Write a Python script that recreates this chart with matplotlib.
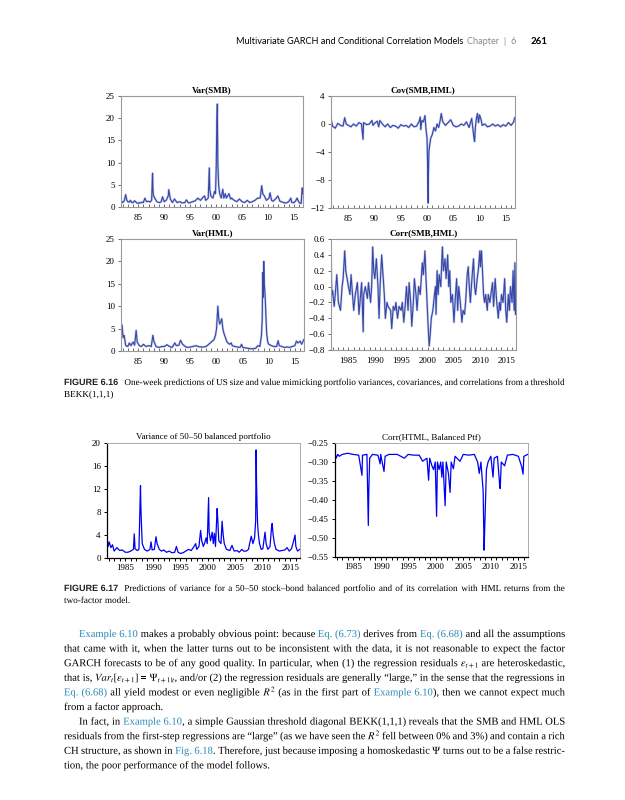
import matplotlib
matplotlib.use("Agg")
import matplotlib.pyplot as plt
from matplotlib.ticker import FixedLocator, FixedFormatter, MultipleLocator
from matplotlib.textpath import TextPath
from matplotlib.patches import PathPatch
from matplotlib.font_manager import FontProperties
from matplotlib.transforms import Affine2D

plt.rcParams['font.family'] = ['Liberation Serif', 'DejaVu Serif']
plt.rcParams['mathtext.fontset'] = 'stix'

W, H = 625, 800

# ---------------- data ----------------
var_smb_t = [1981.7, 1982.0, 1982.3, 1982.6, 1982.8, 1983.0, 1983.3, 1983.5, 1983.8, 1984.0, 1984.3,
             1984.5, 1984.8, 1985.0, 1985.3, 1985.5, 1985.8, 1986.0, 1986.3, 1986.6, 1987.0, 1987.3,
             1987.6, 1987.78, 1987.85, 1987.95, 1988.2, 1988.6, 1989.0, 1989.4, 1989.7, 1990.0, 1990.4,
             1990.8, 1990.9, 1991.2, 1991.6, 1992.0, 1992.5, 1993.0, 1993.5, 1994.0, 1994.3, 1994.7,
             1995.0, 1995.5, 1996.0, 1996.5, 1997.0, 1997.5, 1997.8, 1998.0, 1998.5, 1998.7, 1998.8,
             1999.0, 1999.4, 1999.7, 1999.9, 2000.05, 2000.15, 2000.25, 2000.35, 2000.5, 2000.7,
             2001.0, 2001.3, 2001.5, 2001.8, 2002.0, 2002.5, 2002.8, 2003.0, 2003.5, 2004.0, 2004.5,
             2005.0, 2005.5, 2006.0, 2006.5, 2007.0, 2007.5, 2008.0, 2008.5, 2008.8, 2009.0, 2009.3,
             2009.7, 2010.2, 2010.4, 2010.7, 2011.0, 2011.6, 2011.9, 2012.3, 2012.8, 2013.0, 2013.5,
             2014.0, 2014.4, 2014.6, 2015.0, 2015.3, 2015.6, 2016.0, 2016.4, 2016.6, 2016.7]
var_smb_v = [1.5, 1.0, 1.3, 2.8, 1.6, 1.2, 1.1, 1.5, 1.0, 1.0, 1.4, 1.2, 0.9, 0.8, 1.0, 0.9, 1.1, 1.0,
             2.0, 1.2, 1.3, 1.1, 1.5, 7.6, 4.0, 2.6, 2.0, 1.2, 1.0, 1.1, 2.3, 1.2, 1.5, 2.5, 3.9, 1.8,
             1.0, 1.8, 1.0, 1.2, 0.9, 1.0, 1.6, 0.9, 1.0, 1.2, 1.4, 2.0, 1.5, 2.2, 2.5, 1.5, 2.0, 8.8,
             4.0, 2.5, 2.0, 3.5, 3.0, 9.4, 19.0, 23.2, 10.0, 5.0, 3.0, 2.0, 4.0, 2.0, 3.0, 2.0, 3.0,
             1.8, 2.0, 1.5, 1.2, 1.8, 1.2, 1.0, 1.5, 1.0, 1.2, 1.5, 2.0, 2.0, 4.8, 3.0, 2.5, 1.5, 2.0,
             3.2, 1.5, 1.3, 2.0, 2.5, 1.3, 1.1, 1.0, 0.9, 1.2, 2.0, 1.0, 1.0, 1.3, 2.0, 1.0, 0.8, 4.3,
             3.0]

cov_t = [1981.7, 1982.0, 1982.5, 1983.0, 1983.5, 1984.0, 1984.3, 1984.6, 1985.0, 1985.5, 1986.0,
         1986.5, 1987.0, 1987.5, 1987.8, 1987.9, 1988.5, 1989.0, 1989.5, 1989.7, 1990.0, 1990.5,
         1990.8, 1991.0, 1991.5, 1992.0, 1992.5, 1993.0, 1993.5, 1994.0, 1994.5, 1995.0, 1995.5,
         1996.0, 1996.5, 1997.0, 1997.5, 1998.0, 1998.5, 1998.7, 1998.8, 1999.0, 1999.3, 1999.6,
         1999.8, 2000.0, 2000.1, 2000.2, 2000.25, 2000.35, 2000.5, 2000.7, 2001.0, 2001.3, 2001.6,
         2001.9, 2002.2, 2002.5, 2002.7, 2003.0, 2003.5, 2004.0, 2004.5, 2005.0, 2005.5, 2006.0,
         2006.5, 2007.0, 2007.5, 2008.0, 2008.5, 2008.7, 2008.9, 2009.05, 2009.2, 2009.4, 2009.6,
         2009.8, 2010.0, 2010.3, 2010.5, 2011.0, 2011.5, 2012.0, 2012.5, 2013.0, 2013.5, 2014.0,
         2014.5, 2015.0, 2015.5, 2016.0, 2016.5, 2016.7]
cov_v = [0.8, -0.3, -0.6, 0.1, -0.2, -0.3, 0.9, 0.0, -0.2, -0.4, 0.0, -0.3, 0.2, 0.0, -2.2, 0.2,
         -0.1, 0.0, 0.5, -0.2, 0.1, 0.4, -0.4, 0.5, 0.0, -0.4, 0.0, -0.5, -0.2, -0.3, -0.6, -0.1,
         -0.3, -0.2, -0.5, 0.0, -0.4, -0.3, 0.4, 1.0, -0.8, 0.5, 0.3, 1.2, -0.8, -2.0, -6.0, -11.3,
         -7.5, -4.0, -3.0, -2.0, -1.5, -0.5, -1.0, 0.0, -0.5, 0.5, 1.5, 0.3, -0.2, 0.2, 0.6, -0.2,
         -0.4, -0.3, 0.0, -0.2, 0.3, -0.5, 0.8, -0.5, -1.8, -2.5, -0.5, 0.8, 1.5, 0.2, 1.3, 0.6,
         -0.2, 0.0, -0.4, -0.3, 0.0, -0.3, -0.1, -0.4, -0.1, -0.3, 0.2, -0.2, 0.3, 0.9]

var_hml_t = [1981.7, 1981.9, 1982.1, 1982.3, 1982.6, 1983.0, 1983.3, 1983.6, 1984.0, 1984.3, 1984.6,
             1984.8, 1985.2, 1985.6, 1986.0, 1986.5, 1987.0, 1987.5, 1987.8, 1988.0, 1988.4, 1989.0,
             1989.5, 1990.0, 1990.5, 1991.0, 1991.5, 1992.0, 1992.3, 1992.8, 1993.1, 1993.5, 1994.0,
             1994.5, 1995.0, 1995.5, 1996.0, 1996.5, 1997.0, 1997.5, 1998.0, 1998.5, 1999.0, 1999.5,
             1999.8, 2000.0, 2000.15, 2000.25, 2000.4, 2000.6, 2000.8, 2001.0, 2001.2, 2001.4, 2001.7,
             2002.0, 2002.5, 2002.8, 2003.0, 2003.5, 2004.0, 2004.5, 2004.8, 2005.0, 2005.5, 2006.0,
             2006.5, 2007.0, 2007.5, 2007.9, 2008.3, 2008.6, 2008.75, 2008.85, 2008.95, 2009.05,
             2009.15, 2009.3, 2009.45, 2009.6, 2009.8, 2010.0, 2010.5, 2011.0, 2011.5, 2011.8, 2012.0,
             2012.5, 2013.0, 2013.5, 2014.0, 2014.5, 2015.0, 2015.3, 2015.6, 2016.0, 2016.3, 2016.7]
var_hml_v = [3.5, 5.8, 3.0, 3.5, 1.2, 1.0, 1.8, 1.2, 2.0, 1.3, 4.6, 2.0, 1.2, 1.0, 1.5, 1.0, 1.2, 1.0,
             3.5, 2.2, 1.0, 0.8, 1.0, 1.0, 1.4, 1.0, 0.8, 1.8, 1.2, 1.3, 2.4, 1.5, 1.0, 0.8, 0.9, 1.0,
             1.2, 1.0, 0.9, 0.9, 1.0, 1.5, 2.0, 2.5, 3.5, 5.0, 8.0, 10.0, 7.5, 6.0, 6.5, 7.2, 5.0, 4.0,
             3.0, 2.0, 1.5, 1.8, 1.2, 1.0, 0.9, 0.8, 1.5, 0.8, 0.7, 0.6, 0.5, 0.5, 0.6, 1.2, 1.0, 3.5,
             7.0, 17.5, 12.0, 20.0, 15.0, 12.5, 8.0, 4.0, 2.0, 1.5, 1.2, 1.0, 1.0, 2.3, 1.2, 1.0, 0.8,
             0.9, 0.8, 1.0, 1.2, 2.2, 1.8, 2.2, 1.5, 2.5]

corr_t = [1981.7, 1981.85, 1982.0, 1982.3, 1982.5, 1982.8, 1983.1, 1983.5, 1983.8, 1984.0, 1984.3,
          1984.5, 1985.0, 1985.3, 1985.5, 1986.0, 1986.3, 1986.7, 1987.0, 1987.3, 1987.5, 1987.8,
          1987.9, 1988.2, 1988.6, 1988.8, 1989.2, 1989.4, 1989.6, 1989.8, 1990.0, 1990.3, 1990.6,
          1990.8, 1991.0, 1991.3, 1991.6, 1991.8, 1992.0, 1992.3, 1992.5, 1993.0, 1993.2, 1993.5,
          1993.8, 1994.0, 1994.3, 1994.6, 1995.0, 1995.2, 1995.5, 1995.8, 1996.0, 1996.3, 1996.5,
          1996.8, 1997.0, 1997.3, 1997.5, 1997.8, 1998.0, 1998.3, 1998.6, 1999.0, 1999.2, 1999.5,
          1999.7, 1999.9, 2000.1, 2000.3, 2000.5, 2000.7, 2001.0, 2001.3, 2001.5, 2001.6, 2001.8,
          2002.0, 2002.2, 2002.5, 2002.8, 2003.0, 2003.3, 2003.5, 2003.8, 2004.0, 2004.2, 2004.4,
          2004.7, 2005.0, 2005.2, 2005.5, 2005.7, 2005.9, 2006.2, 2006.5, 2006.7, 2007.0, 2007.2,
          2007.5, 2007.7, 2007.9, 2008.1, 2008.4, 2008.7, 2008.9, 2009.1, 2009.4, 2009.6, 2009.9,
          2010.0, 2010.2, 2010.4, 2010.6, 2010.8, 2011.0, 2011.3, 2011.5, 2011.8, 2012.0, 2012.3,
          2012.5, 2012.8, 2013.1, 2013.4, 2013.6, 2013.8, 2014.0, 2014.3, 2014.6, 2014.8, 2015.0,
          2015.3, 2015.5, 2015.7, 2016.0, 2016.2, 2016.4, 2016.55, 2016.65]
corr_v = [0.35, -0.1, -0.05, -0.25, -0.1, 0.15, -0.2, -0.3, 0.0, 0.1, 0.45, 0.2, 0.0, -0.1, 0.15,
          -0.3, -0.1, 0.05, -0.35, -0.1, 0.05, -0.57, -0.1, 0.0, -0.15, 0.05, -0.2, 0.0, 0.5, 0.2,
          0.1, 0.35, 0.0, -0.4, 0.0, 0.4, 0.1, -0.1, -0.4, -0.2, -0.25, -0.3, -0.53, -0.25, -0.3,
          -0.2, -0.4, -0.25, -0.3, -0.2, -0.45, -0.2, 0.0, -0.3, 0.05, -0.2, -0.5, -0.2, 0.1, -0.1,
          -0.3, 0.0, -0.1, 0.3, 0.15, 0.45, 0.1, -0.2, -0.5, -0.75, -0.6, -0.4, -0.3, -0.1, 0.0,
          -0.35, 0.2, -0.1, 0.15, 0.0, 0.5, 0.2, 0.35, 0.1, 0.4, 0.0, 0.2, -0.2, -0.1, -0.45, -0.2,
          0.1, -0.3, 0.0, -0.2, -0.45, -0.3, -0.35, -0.2, 0.15, 0.25, 0.0, -0.2, 0.1, 0.35, 0.0,
          -0.1, 0.1, 0.2, 0.45, 0.25, 0.45, 0.2, -0.1, -0.2, -0.1, -0.3, -0.1, -0.2, -0.1, 0.05,
          -0.25, 0.1, -0.2, -0.4, -0.2, -0.3, -0.1, -0.2, 0.1, -0.3, -0.45, -0.1, -0.3, 0.0, -0.2,
          0.2, -0.3, 0.3, -0.35]

bal_var_t = [1981.7, 1981.9, 1982.1, 1982.4, 1982.7, 1983.0, 1983.5, 1984.0, 1984.5, 1985.0, 1985.5,
             1986.0, 1986.5, 1986.65, 1986.8, 1987.2, 1987.5, 1987.78, 1987.85, 1987.95, 1988.1,
             1988.5, 1989.0, 1989.5, 1989.7, 1989.9, 1990.3, 1990.6, 1990.8, 1991.2, 1991.6, 1992.0,
             1992.5, 1993.0, 1993.5, 1994.0, 1994.3, 1994.6, 1995.0, 1995.5, 1996.0, 1996.5, 1997.0,
             1997.5, 1997.8, 1998.0, 1998.4, 1998.7, 1998.9, 1999.2, 1999.5, 1999.7, 1999.9, 2000.15,
             2000.25, 2000.5, 2000.8, 2001.0, 2001.2, 2001.4, 2001.7, 2001.8, 2002.0, 2002.4, 2002.6,
             2002.8, 2003.0, 2003.4, 2004.0, 2004.4, 2004.8, 2005.3, 2005.7, 2006.2, 2006.5, 2007.0,
             2007.4, 2007.6, 2007.9, 2008.2, 2008.5, 2008.7, 2008.78, 2008.85, 2008.95, 2009.05,
             2009.2, 2009.4, 2009.7, 2010.0, 2010.4, 2010.6, 2010.9, 2011.3, 2011.6, 2011.7, 2011.85,
             2012.1, 2012.4, 2013.0, 2013.5, 2014.0, 2014.4, 2014.8, 2015.2, 2015.6, 2015.85, 2016.0,
             2016.3, 2016.7]
bal_var_v = [3.7, 2.0, 2.8, 1.8, 2.3, 1.2, 1.8, 1.3, 1.4, 1.0, 1.0, 1.2, 1.5, 4.2, 1.6, 1.3, 1.5,
             12.6, 9.0, 6.0, 2.5, 1.5, 1.2, 1.5, 2.8, 1.4, 1.5, 3.7, 2.5, 1.5, 1.2, 1.4, 1.0, 1.2,
             0.9, 1.0, 2.0, 1.0, 0.8, 0.9, 1.2, 1.5, 1.3, 2.0, 2.5, 1.5, 2.0, 4.8, 3.0, 2.0, 2.8,
             3.5, 2.5, 10.5, 4.5, 3.0, 4.5, 2.5, 4.3, 2.0, 8.6, 7.0, 3.0, 2.5, 6.4, 4.0, 2.5, 1.5,
             1.3, 2.2, 1.2, 1.3, 1.0, 1.5, 1.2, 1.2, 1.5, 2.5, 3.8, 2.5, 3.5, 6.5, 18.8, 13.5, 9.0,
             6.0, 4.0, 2.5, 1.5, 1.6, 4.5, 2.5, 1.5, 2.0, 5.5, 6.0, 4.2, 2.5, 1.5, 1.2, 1.3, 1.4,
             1.8, 1.2, 1.6, 3.0, 4.0, 2.0, 1.2, 1.5]

bal_corr_t = [1981.7, 1981.9, 1982.2, 1982.5, 1983.0, 1984.0, 1985.0, 1986.0, 1986.6, 1986.7,
              1987.5, 1987.75, 1987.85, 1988.0, 1988.5, 1989.5, 1989.9, 1990.0, 1990.6, 1990.8,
              1991.5, 1993.0, 1994.3, 1995.0, 1996.0, 1997.0, 1997.6, 1998.4, 1998.7, 1998.9,
              1999.3, 1999.6, 1999.9, 2000.15, 2000.3, 2000.6, 2000.9, 2001.1, 2001.3, 2001.7,
              2001.9, 2002.3, 2002.6, 2002.8, 2003.2, 2003.5, 2004.4, 2005.0, 2006.0, 2007.0,
              2007.6, 2007.9, 2008.2, 2008.6, 2008.78, 2008.9, 2009.0, 2009.2, 2009.5, 2010.0,
              2010.4, 2010.6, 2011.2, 2011.6, 2011.7, 2011.9, 2012.5, 2013.0, 2014.0, 2015.0,
              2015.6, 2015.85, 2016.0, 2016.7]
bal_corr_v = [-0.275, -0.29, -0.28, -0.285, -0.28, -0.277, -0.28, -0.282, -0.335, -0.282, -0.28,
              -0.467, -0.37, -0.29, -0.28, -0.282, -0.305, -0.28, -0.325, -0.285, -0.28, -0.28,
              -0.29, -0.28, -0.282, -0.282, -0.298, -0.29, -0.348, -0.29, -0.31, -0.32, -0.3,
              -0.443, -0.3, -0.32, -0.3, -0.34, -0.3, -0.415, -0.3, -0.33, -0.38, -0.3, -0.318,
              -0.285, -0.298, -0.28, -0.282, -0.28, -0.3, -0.33, -0.3, -0.375, -0.532, -0.47, -0.42,
              -0.32, -0.3, -0.285, -0.34, -0.29, -0.285, -0.36, -0.37, -0.3, -0.31, -0.282, -0.28,
              -0.285, -0.312, -0.332, -0.285, -0.28]

short_years = [1985, 1990, 1995, 2000, 2005, 2010, 2015]
short_labels = ['85', '90', '95', '00', '05', '10', '15']
long_labels = ['1985', '1990', '1995', '2000', '2005', '2010', '2015']
corr_ticks = [-0.55, -0.50, -0.45, -0.40, -0.35, -0.30, -0.25]
corr_labels = ['\u22120.55', '\u22120.50', '\u22120.45', '\u22120.40', '\u22120.35', '\u22120.30', '\u22120.25']

header_main = "Multivariate GARCH and Conditional Correlation Models"
header_chap = "Chapter  |  6"
page_no = "261"

cap16_lines = ["One-week predictions of US size and value mimicking portfolio variances, covariances, and correlations from a threshold",
               "BEKK(1,1,1)"]
cap17_lines = ["Predictions of variance for a 50\u201350 stock\u2013bond balanced portfolio and of its correlation with HML returns from the",
               "two-factor model."]

# <...> marks cross-reference (link) text
body_lines = [
    "<Example 6.10> makes a probably obvious point: because <Eq. (6.73)> derives from <Eq. (6.68)> and all the assumptions",
    "that came with it, when the latter turns out to be inconsistent with the data, it is not reasonable to expect the factor",
    "GARCH forecasts to be of any good quality. In particular, when (1) the regression residuals $\\varepsilon_{t+1}$ are heteroskedastic,",
    "that is, $Var_t[\\varepsilon_{t+1}]$ = $\\Psi_{t+1|t}$, and/or (2) the regression residuals are generally \u201clarge,\u201d in the sense that the regressions in",
    "<Eq. (6.68)> all yield modest or even negligible $R^2$ (as in the first part of <Example 6.10>), then we cannot expect much",
    "from a factor approach.",
    "In fact, in <Example 6.10>, a simple Gaussian threshold diagonal BEKK(1,1,1) reveals that the SMB and HML OLS",
    "residuals from the first-step regressions are \u201clarge\u201d (as we have seen the $R^2$ fell between 0% and 3%) and contain a rich",
    "CH structure, as shown in <Fig. 6.18>. Therefore, just because imposing a homoskedastic $\\Psi$ turns out to be a false restric-",
    "tion, the poor performance of the model follows.",
]
body_indent = [True, False, False, False, False, False, True, False, False, False]
body_last = [False, False, False, False, False, True, False, False, False, True]

LINK = '#2b88b8'
TOP_BLUE = '#3646a6'
TOP_HALO = '#c3c9ea'
BOT_BLUE = '#0000f0'

fig = plt.figure(figsize=(W / 100, H / 100), dpi=100)
renderer = fig.canvas.get_renderer()
SERIF = FontProperties(family=['Liberation Serif', 'DejaVu Serif'])


def fx(x):
    return x / W


def fy(y):
    return 1 - y / H


def box(l, r, t, b):
    return [fx(l), fy(b), (r - l) / W, (b - t) / H]


def parse(line):
    words, cur, buf, color = [], [], '', 'black'
    for ch in line:
        if ch in '<>' or ch == ' ':
            if buf:
                cur.append((buf, color))
                buf = ''
            if ch == '<':
                color = LINK
            elif ch == '>':
                color = 'black'
            elif cur:
                words.append(cur)
                cur = []
        else:
            buf += ch
    if buf:
        cur.append((buf, color))
    if cur:
        words.append(cur)
    return words


def text_width(txt, size, fp=None):
    if '$' in txt:
        # mathtext boxes come out too wide, use the ink extent instead
        tp = TextPath((0, 0), txt, size=size * 100 / 72, prop=fp or SERIF)
        return tp.get_extents().x1 + 0.6
    a = fig.text(0, 0, txt, fontsize=size, fontproperties=fp)
    wd = a.get_window_extent(renderer).width
    a.remove()
    return wd


def path_text(x, y, txt, size, color, fp=None):
    # glyphs as filled paths, placed in pixel coordinates (no baseline snapping)
    tp = TextPath((0, 0), txt, size=size * 100 / 72, prop=fp or SERIF)
    tr = Affine2D().translate(x, H - y)
    fig.patches.append(PathPatch(tp, transform=tr, facecolor=color, edgecolor='none', lw=0, figure=fig))


def put_line(line, x0, x1, y, size, justify=True):
    words = parse(line)
    widths = []
    for w in words:
        widths.append([text_width(txt, size) for txt, col in w])
    totals = [sum(ws) for ws in widths]
    space = 0.25 * size * 100 / 72
    if justify and len(words) > 1:
        space = (x1 - x0 - sum(totals)) / (len(words) - 1)
    x = x0
    for w, ws, tot in zip(words, widths, totals):
        xx = x
        for (txt, col), wd in zip(w, ws):
            path_text(xx, y, txt, size, col)
            xx += wd
        x += tot + space


def draw_top(ax, t, v):
    ax.plot(t, v, color=TOP_HALO, lw=1.6)
    ax.plot(t, v, color=TOP_BLUE, lw=0.8)


def style_top(ax, ylo, yhi, yticks, long_x=False):
    ax.set_xlim(1981.7, 2016.75)
    ax.set_ylim(ylo, yhi)
    ax.xaxis.set_major_locator(FixedLocator(short_years))
    ax.xaxis.set_major_formatter(FixedFormatter(long_labels if long_x else short_labels))
    ax.xaxis.set_minor_locator(MultipleLocator(1))
    ax.yaxis.set_major_locator(FixedLocator(yticks))
    ax.tick_params(axis='x', which='both', direction='in', length=2, width=0.6, colors='#555555',
                   labelcolor='black', labelsize=6.5, pad=5)
    ax.tick_params(axis='y', direction='out', length=2.5, width=0.6, colors='#555555',
                   labelcolor='black', labelsize=6.5, pad=2)
    for s in ax.spines.values():
        s.set_color('#9a9a9a')
        s.set_linewidth(0.8)


# Figure 6.16 panels
ax1 = fig.add_axes(box(121, 303, 96, 207))
draw_top(ax1, var_smb_t, var_smb_v)
style_top(ax1, 0, 25, [0, 5, 10, 15, 20, 25])
ax1.set_title("Var(SMB)", fontsize=6.5, fontweight='bold', pad=3)

ax2 = fig.add_axes(box(331, 515, 96, 208))
draw_top(ax2, cov_t, cov_v)
style_top(ax2, -12, 4, [-12, -8, -4, 0, 4])
ax2.set_title("Cov(SMB,HML)", fontsize=6.5, fontweight='bold', pad=3)

ax3 = fig.add_axes(box(121, 304, 239, 351))
draw_top(ax3, var_hml_t, var_hml_v)
style_top(ax3, 0, 25, [0, 5, 10, 15, 20, 25])
ax3.set_title("Var(HML)", fontsize=6.5, fontweight='bold', pad=3)

ax4 = fig.add_axes(box(331, 516, 239, 350))
draw_top(ax4, corr_t, corr_v)
style_top(ax4, -0.8, 0.6, [-0.8, -0.6, -0.4, -0.2, 0.0, 0.2, 0.4, 0.6], long_x=True)
ax4.set_title("Corr(SMB,HML)", fontsize=6.5, fontweight='bold', pad=3)


# Figure 6.17 panels
def style_bottom(ax, ylo, yhi, yticks):
    ax.set_xlim(1981.7, 2016.75)
    ax.set_ylim(ylo, yhi)
    ax.xaxis.set_major_locator(FixedLocator(short_years))
    ax.xaxis.set_major_formatter(FixedFormatter(long_labels))
    ax.xaxis.set_minor_locator(MultipleLocator(1))
    ax.yaxis.set_major_locator(FixedLocator(yticks))
    ax.tick_params(axis='both', which='both', direction='out', length=2.5, width=0.7, labelsize=6.5, pad=2)
    ax.tick_params(axis='x', which='minor', length=2)
    for s in ['top', 'right']:
        ax.spines[s].set_color('#aaaaaa')
        ax.spines[s].set_linewidth(0.7)
    for s in ['left', 'bottom']:
        ax.spines[s].set_linewidth(0.9)


ax5 = fig.add_axes(box(107, 300, 443, 558))
ax5.plot(bal_var_t, bal_var_v, color=BOT_BLUE, lw=0.9)
style_bottom(ax5, 0, 20, [0, 4, 8, 12, 16, 20])
ax5.set_title("Variance of 50\u201350 balanced portfolio", fontsize=6.5, pad=3)

ax6 = fig.add_axes(box(335, 528, 443, 557))
ax6.plot(bal_corr_t, bal_corr_v, color=BOT_BLUE, lw=0.9)
style_bottom(ax6, -0.55, -0.25, corr_ticks)
ax6.yaxis.set_major_formatter(FixedFormatter(corr_labels))
ax6.set_title("Corr(HTML, Balanced Ptf)", fontsize=6.5, pad=3)

# running header, laid out left to right
hx = 236
t_main = fig.text(fx(hx), fy(44), header_main, fontsize=6.6, family='Lato', va='baseline')
hx += t_main.get_window_extent(renderer).width + 4
t_chap = fig.text(fx(hx), fy(44), header_chap, fontsize=6.6, family='Lato', color='#8a8a8a', va='baseline')
hx += t_chap.get_window_extent(renderer).width + 14
fig.text(fx(hx), fy(44), page_no, fontsize=7, fontweight='bold', family='Lato', va='baseline')


# captions
def caption(label, lines, y0):
    fp = FontProperties(family='Liberation Sans', weight='bold')
    path_text(64, y0, label, 6.5, '#222222', fp)
    lw = text_width(label, 6.5, fp)
    put_line(lines[0], 64 + lw + 6, 565, y0, 6.6, justify=True)
    put_line(lines[1], 64, 565, y0 + 12, 6.6, justify=False)


caption("FIGURE 6.16", cap16_lines, 385)
caption("FIGURE 6.17", cap17_lines, 591)

# body text
y = 637
for line, ind, last in zip(body_lines, body_indent, body_last):
    put_line(line, 79 if ind else 64, 565, y, 7.6, justify=not last)
    y += 14.6

fig.savefig("out.png", dpi=100)
